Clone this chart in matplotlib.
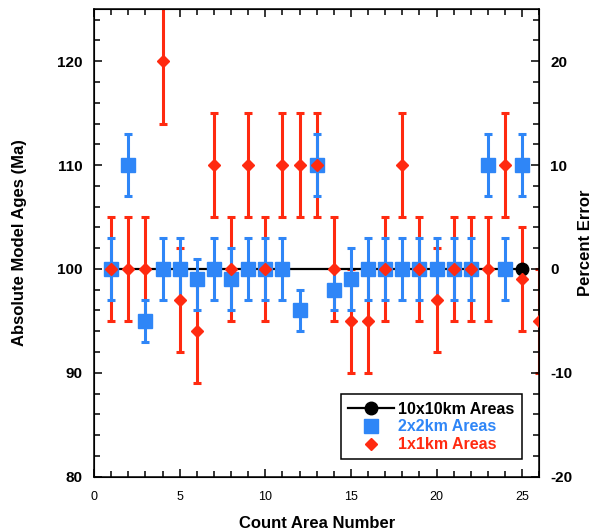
import numpy as np
import matplotlib.pyplot as plt
from matplotlib.lines import Line2D
from matplotlib.ticker import MultipleLocator
import matplotlib as mpl

mpl.rcParams['font.family'] = ['Liberation Sans', 'DejaVu Sans']
mpl.rcParams['axes.unicode_minus'] = False

BLUE = '#2f86f7'
RED = '#ff2a10'

# 10x10km reference ages
areas_10km = [1, 25]
ages_10km = [100, 100]

# 2x2km areas
areas_2km = np.arange(1, 26)
ages_2km = [100, 110, 95, 100, 100, 99, 100, 99, 100, 100, 100, 96, 110,
            98, 99, 100, 100, 100, 100, 100, 100, 100, 110, 100, 110]
err_lo_2km = [3, 3, 2, 3, 3, 3, 3, 3, 3, 3, 3, 2, 3, 2, 3, 3, 3, 3, 3, 3, 3, 3, 3, 3, 3]
err_hi_2km = [3, 3, 2, 3, 3, 2, 3, 3, 3, 3, 3, 2, 3, 2, 3, 3, 3, 3, 3, 3, 3, 3, 3, 3, 3]

# 1x1km areas
areas_1km = np.arange(1, 27)
ages_1km = [100, 100, 100, 120, 97, 94, 110, 100, 110, 100, 110, 110, 110,
            100, 95, 95, 100, 110, 100, 97, 100, 100, 100, 110, 99, 95]
err_1km = [5, 5, 5, 6, 5, 5, 5, 5, 5, 5, 5, 5, 5, 5, 5, 5, 5, 5, 5, 5, 5, 5, 5, 5, 5, 5]

fig = plt.figure(figsize=(5.97, 5.31), dpi=100)
ax = fig.add_axes([0.1575, 0.1023, 0.7459, 0.8802])

# error bars
ax.errorbar(areas_1km, ages_1km, yerr=err_1km, fmt='none', ecolor=RED,
            elinewidth=2.2, capsize=2.6, capthick=2.2, zorder=2)
ax.plot(areas_10km, ages_10km, color='black', lw=1.6, zorder=2.5)
ax.errorbar(areas_2km, ages_2km, yerr=[err_lo_2km, err_hi_2km], fmt='none',
            ecolor=BLUE, elinewidth=2.2, capsize=2.6, capthick=2.2, zorder=3)
ax.plot(areas_2km, ages_2km, 's', color=BLUE, ms=9.5, mec=BLUE, zorder=4)
ax.plot(areas_10km[-1:], ages_10km[-1:], 'o', color='black', ms=9, zorder=4.5)
ax.plot(areas_1km, ages_1km, 'D', color=RED, ms=6.5, mec=RED, zorder=5)

ax.set_xlim(0, 26)
ax.set_ylim(80, 125)
ax.xaxis.set_major_locator(MultipleLocator(5))
ax.xaxis.set_minor_locator(MultipleLocator(1))
ax.yaxis.set_major_locator(MultipleLocator(10))
ax.yaxis.set_minor_locator(MultipleLocator(2))
ax.tick_params(which='both', direction='in', top=True, right=False, width=1.1)
ax.tick_params(which='major', length=6)
ax.tick_params(which='minor', length=4)
ax.tick_params(axis='x', labelsize=9, pad=10)
ax.tick_params(axis='y', labelsize=11, pad=8)
for lab in ax.get_yticklabels():
    lab.set_fontweight('bold')
for sp in ax.spines.values():
    sp.set_linewidth(1.1)

ax.set_xlabel('Count Area Number', fontsize=12, fontweight='bold', labelpad=10)
ax.set_ylabel('Absolute Model Ages (Ma)', fontsize=12, fontweight='bold', labelpad=22)

# percent error axis
ax2 = ax.twinx()
ax2.set_ylim(-20, 25)
ax2.yaxis.set_major_locator(MultipleLocator(10))
ax2.yaxis.set_minor_locator(MultipleLocator(2))
ax2.tick_params(which='both', direction='in', width=1.1, labelsize=11, pad=8)
ax2.tick_params(which='major', length=6)
ax2.tick_params(which='minor', length=4)
for lab in ax2.get_yticklabels():
    lab.set_fontweight('bold')
ax2.set_ylabel('Percent Error', fontsize=12, fontweight='bold', labelpad=4)

handles = [
    Line2D([], [], color='black', lw=1.6, marker='o', ms=9),
    Line2D([], [], color=BLUE, lw=0, marker='s', ms=9.5),
    Line2D([], [], color=RED, lw=0, marker='D', ms=6.5),
]
leg = ax2.legend(handles, ['10x10km Areas', '2x2km Areas', '1x1km Areas'],
                 loc='lower right', bbox_to_anchor=(0.968, 0.03),
                 fancybox=False, framealpha=1, edgecolor='black',
                 prop={'weight': 'bold', 'size': 11.5}, handlelength=2.9,
                 labelspacing=0.18, borderpad=0.45, handletextpad=0.25,
                 borderaxespad=0.2)
leg.get_frame().set_linewidth(1.1)
for txt, c in zip(leg.get_texts(), ['black', BLUE, RED]):
    txt.set_color(c)

fig.savefig('out.png', dpi=100)
